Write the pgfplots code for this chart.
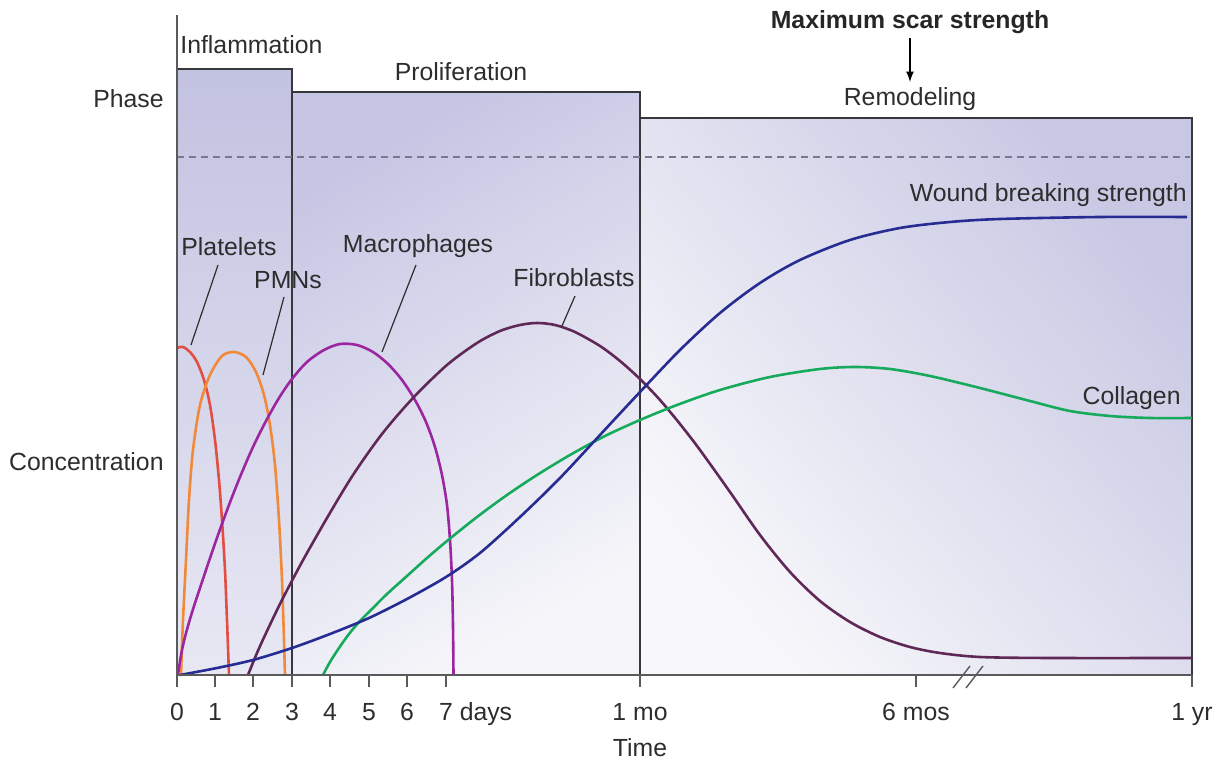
\documentclass[border=0pt]{standalone}
\usepackage{fontspec}
\setmainfont{Liberation Sans}
\usepackage{pgfplots}
\pgfplotsset{compat=1.18}
\definecolor{txt}{RGB}{45,45,45}
\definecolor{axgray}{RGB}{90,90,90}
\definecolor{boxline}{RGB}{55,55,60}
\definecolor{inflA}{RGB}{194,194,225}
\definecolor{inflB}{RGB}{232,232,244}
\definecolor{proA}{RGB}{198,198,228}
\definecolor{proB}{RGB}{246,246,250}
\definecolor{remA}{RGB}{248,248,251}
\definecolor{remB}{RGB}{200,200,228}
\definecolor{cPlat}{RGB}{226,78,68}
\definecolor{cPMN}{RGB}{240,138,58}
\definecolor{cMac}{RGB}{156,38,160}
\definecolor{cFib}{RGB}{96,40,86}
\definecolor{cWound}{RGB}{38,44,146}
\definecolor{cColl}{RGB}{22,170,92}
\newcommand{\fsz}{\fontsize{12.4}{14}\selectfont}
\tikzset{lbl/.style={font=\fsz, text=txt, inner sep=0pt}}
\begin{document}
\begin{tikzpicture}
\begin{axis}[
  scale only axis, width=507.5pt, height=330pt,
  xmin=0, xmax=1015, ymin=0, ymax=660,
  clip=false,
  axis x line*=bottom, axis y line*=left,
  axis line style={draw=axgray, line width=1pt},
  ytick=\empty,
  xtick={0,38,76,115,153,192,230,269,463,739,1015},
  xticklabels={0,1,2,3,4,5,6,7\rlap{\ days},1 mo,6 mos,1 yr},
  tick align=outside, major tick length=6pt,
  tick style={draw=axgray, line width=0.8pt},
  xticklabel style={font=\fsz, text=txt, anchor=base, yshift=-17pt},
  axis on top,
]
% bounding box
\path (axis cs:-177,-85) rectangle (axis cs:1046,675);
% phase boxes
\addplot[draw=boxline, line width=0.7pt, top color=inflA, bottom color=inflB]
  coordinates {(0,0) (0,606) (115,606) (115,0)} -- cycle;
\addplot[draw=boxline, line width=0.7pt, top color=proA, bottom color=proB, shading angle=30]
  coordinates {(115,0) (115,583) (463,583) (463,0)} -- cycle;
\addplot[draw=boxline, line width=0.7pt, top color=remB, bottom color=remA, shading angle=-50]
  coordinates {(463,0) (463,557) (1015,557) (1015,0)} -- cycle;
% dashed line
\addplot[draw={rgb,255:red,120;green,120;blue,145}, line width=0.6pt, dash pattern=on 3.5pt off 2.5pt]
  coordinates {(0,518) (1013,518)};
% curves
\addplot[cPlat, line width=1.3pt, smooth] coordinates {
(0,327) (6,328) (13,323) (20,313) (27,295) (33,270) (38,235) (42,195) (45,155) (48,105) (50,55) (52,0)};
\addplot[cPMN, line width=1.3pt, smooth] coordinates {
(4,0) (6,55) (9,115) (12,175) (16,225) (23,270) (33,300) (45,319) (57,323) (69,318) (79,303) (87,280) (93,250) (98,210) (102,155) (105,95) (107,35) (108,0)};
\addplot[cMac, line width=1.3pt, smooth] coordinates {
(1,0) (4,20) (8,38) (13,56) (19,75) (30,108) (41,140) (52,170) (63,198) (76,228) (89,254) (102,277) (115,296) (130,313) (147,325) (163,331) (180,330) (196,323) (211,311) (225,295) (238,275) (249,253) (258,228) (265,200) (270,170) (273,135) (275,95) (276,50) (276.5,0)};
\addplot[cFib, line width=1.3pt, smooth] coordinates {
(71,0) (80,22) (90,44) (105,75) (125,113) (150,157) (176,200) (205,241) (236,277) (270,310) (300,332) (323,344) (343,350) (360,352) (378,350) (398,343) (423,329) (443,314) (463,296) (483,275) (503,251) (523,225) (553,183) (583,140) (613,103) (643,74) (673,53) (703,38) (733,28) (763,22) (803,18) (873,17) (1015,17)};
\addplot[cColl, line width=1.3pt, smooth] coordinates {
(146,0) (153,13) (162,27) (172,41) (183,54) (195,66) (210,81) (230,99) (250,117) (270,134) (300,158) (330,180) (360,200) (393,220) (428,239) (463,255) (500,270) (543,285) (593,298) (643,306) (678,308) (713,306) (753,299) (803,287) (853,274) (893,264) (933,259) (973,257) (1015,257)};
\addplot[cWound, line width=1.3pt, smooth] coordinates {
(3,0) (40,7) (76,15) (115,27) (153,41) (192,57) (230,76) (269,98) (303,122) (343,158) (383,197) (423,240) (463,283) (503,325) (543,362) (583,392) (623,415) (673,435) (723,447) (773,453) (823,456) (923,458) (1010,458)};
% leader lines
\draw[txt, line width=0.6pt] (axis cs:41,410) -- (axis cs:14,330);
\draw[txt, line width=0.6pt] (axis cs:107,378) -- (axis cs:86,300);
\draw[txt, line width=0.6pt] (axis cs:239,410) -- (axis cs:205,323);
\draw[txt, line width=0.6pt] (axis cs:398,379) -- (axis cs:385,349);
% break marks
\draw[axgray, line width=0.7pt] (axis cs:776,-13) -- (axis cs:793,9);
\draw[axgray, line width=0.7pt] (axis cs:789,-13) -- (axis cs:806,9);
% arrow
\draw[black, line width=0.8pt, -latex] (axis cs:733,637) -- (axis cs:733,593);
% labels
\node[lbl, anchor=west] at (axis cs:3,630) {Inflammation};
\node[lbl] at (axis cs:284,603) {Proliferation};
\node[lbl] at (axis cs:733,576) {Remodeling};
\node[lbl, font=\fsz\bfseries, text=black!85] at (axis cs:733,653) {Maximum scar strength};
\node[lbl, anchor=east] at (axis cs:-13,576) {Phase};
\node[lbl, anchor=east] at (axis cs:-13,213) {Concentration};
\node[lbl, anchor=east] at (axis cs:1010,480) {Wound breaking strength};
\node[lbl, anchor=east] at (axis cs:1004,277) {Collagen};
\node[lbl] at (axis cs:52,428) {Platelets};
\node[lbl] at (axis cs:111,395) {PMNs};
\node[lbl] at (axis cs:241,429) {Macrophages};
\node[lbl] at (axis cs:397,397) {Fibroblasts};
\node[lbl] at (axis cs:463,-73) {Time};
\end{axis}
\end{tikzpicture}
\end{document}
